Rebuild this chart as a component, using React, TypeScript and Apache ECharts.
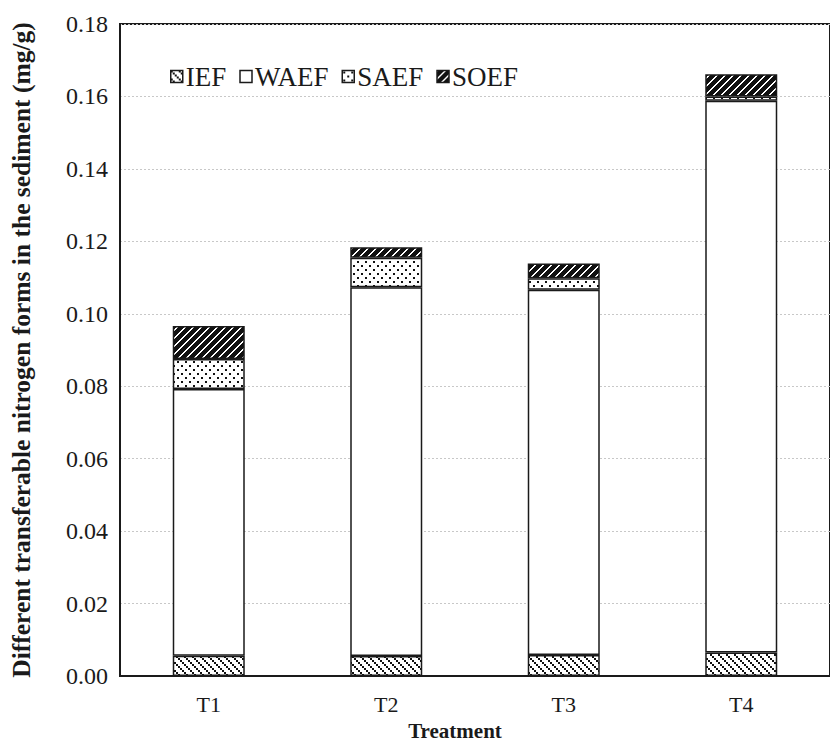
import React, { useEffect, useRef } from "react";
import * as echarts from "echarts";

// Treatment groups on the x axis
const treatments = ["T1", "T2", "T3", "T4"];

// Transferable nitrogen fractions in the sediment (mg/g), stacked bottom to top
const iefValues = [0.0056, 0.0055, 0.0058, 0.0065];
const waefValues = [0.0736, 0.1018, 0.1008, 0.1523];
const saefValues = [0.0083, 0.0082, 0.0032, 0.0012];
const soefValues = [0.0091, 0.0029, 0.0041, 0.0061];

const yTicks = { min: 0, max: 0.18, interval: 0.02 };

type Painter = (ctx: CanvasRenderingContext2D) => void;

function makeTile(size: number, bg: string, paint: Painter) {
  const c = document.createElement("canvas");
  c.width = size;
  c.height = size;
  const ctx = c.getContext("2d")!;
  ctx.fillStyle = bg;
  ctx.fillRect(0, 0, size, size);
  ctx.fillStyle = "#111";
  paint(ctx);
  return { image: c, repeat: "repeat" as const };
}

// "\\\" dotted diagonal hatch
const iefPattern = () =>
  makeTile(8, "#fff", (ctx) => {
    for (let i = 0; i < 8; i += 2) {
      ctx.fillRect(i, i, 2, 2);
    }
  });

// staggered dot grid
const saefPattern = () =>
  makeTile(8, "#fff", (ctx) => {
    ctx.fillRect(1, 1, 2, 2);
    ctx.fillRect(5, 5, 2, 2);
  });

// heavy "///" stripes
const soefPattern = () =>
  makeTile(8, "#111", (ctx) => {
    ctx.fillStyle = "#fff";
    for (let y = 0; y < 8; y++) {
      const x = (7 - y + 8) % 8;
      ctx.fillRect(x, y, 2, 1);
      if (x === 7) ctx.fillRect(0, y, 1, 1);
    }
  });

const serif = "'Liberation Serif', 'Times New Roman', serif";

export default function App() {
  const ref = useRef<HTMLDivElement>(null);

  useEffect(() => {
    if (!ref.current) return;
    const chart = echarts.init(ref.current, null, { renderer: "svg" });

    const border = { borderColor: "#1a1a1a", borderWidth: 1.5 };
    const mk = (name: string, data: number[], color: any) => ({
      name,
      type: "bar",
      stack: "total",
      barWidth: 72,
      data,
      itemStyle: { color, ...border },
      emphasis: { disabled: true },
    });

    chart.setOption({
      animation: false,
      backgroundColor: "#fff",
      textStyle: { fontFamily: serif },
      grid: {
        left: 119,
        top: 24,
        width: 722,
        height: 652,
        show: true,
        borderColor: "#1a1a1a",
        borderWidth: 2,
        backgroundColor: "transparent",
      },
      legend: {
        left: 165,
        top: 58,
        icon: "rect",
        itemWidth: 12,
        itemHeight: 12,
        itemGap: 13,
        itemStyle: { borderColor: "#1a1a1a", borderWidth: 1.5 },
        textStyle: { fontFamily: serif, fontSize: 27, color: "#1a1a1a", padding: [0, 0, 0, -2] },
        data: ["IEF", "WAEF", "SAEF", "SOEF"],
      },
      xAxis: {
        type: "category",
        data: treatments,
        axisLine: { lineStyle: { color: "#1a1a1a", width: 2 } },
        axisTick: { show: false },
        axisLabel: { fontFamily: serif, fontSize: 22, color: "#1a1a1a", margin: 17 },
      },
      yAxis: {
        type: "value",
        min: yTicks.min,
        max: yTicks.max,
        interval: yTicks.interval,
        name: "Different transferable nitrogen forms in the sediment (mg/g)",
        nameLocation: "middle",
        nameGap: 86,
        nameTextStyle: { fontFamily: serif, fontSize: 25.5, fontWeight: "bold", color: "#1a1a1a" },
        axisLine: { show: true, lineStyle: { color: "#1a1a1a", width: 2 } },
        axisTick: { show: false },
        axisLabel: {
          fontFamily: serif,
          fontSize: 24,
          color: "#1a1a1a",
          margin: 12,
          formatter: (v: number) => v.toFixed(2),
        },
        splitLine: { lineStyle: { color: "#c8c8c8", type: [2, 2], width: 1 } },
      },
      graphic: [
        {
          type: "text",
          x: 455,
          y: 731,
          style: {
            text: "Treatment",
            fontFamily: serif,
            fontSize: 21,
            fontWeight: "bold",
            fill: "#1a1a1a",
            align: "center",
            verticalAlign: "middle",
          },
        },
      ],
      series: [
        mk("IEF", iefValues, iefPattern()),
        mk("WAEF", waefValues, "#fff"),
        mk("SAEF", saefValues, saefPattern()),
        mk("SOEF", soefValues, soefPattern()),
      ],
    });

    return () => chart.dispose();
  }, []);

  return (
    <div
      ref={ref}
      style={{ position: "fixed", left: 0, top: 0, width: 830, height: 743 }}
    />
  );
}
